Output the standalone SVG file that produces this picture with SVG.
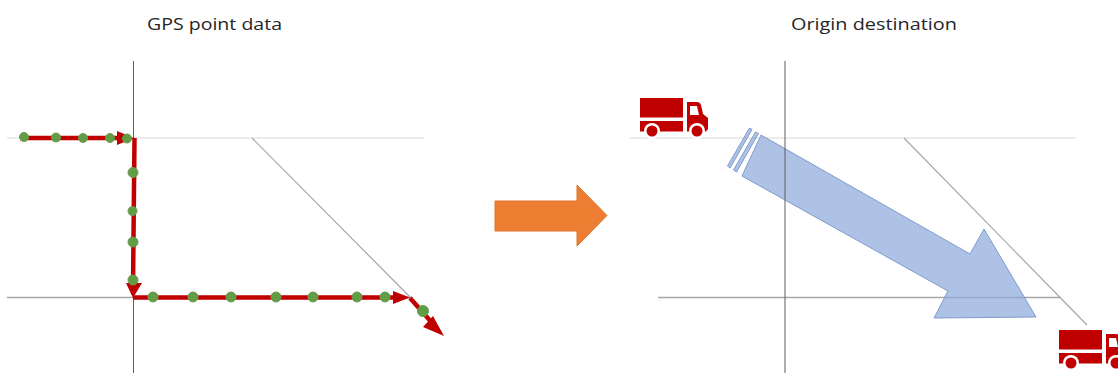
<svg xmlns="http://www.w3.org/2000/svg" width="1118" height="373" viewBox="0 0 1118 373">
<style>
.t{font-family:"Open Sans","Liberation Sans",sans-serif;font-size:16.5px;fill:#262626}
.ax{stroke:#5f5f5f;stroke-width:1;fill:none}
.lt{stroke:#d9d9d9;stroke-width:1;fill:none}
.gr{stroke:#a6a6a6;stroke-width:1.3;fill:none}
.dg{stroke:#a6a6a6;stroke-width:1.2;fill:none}
.rd{stroke:#c00000;stroke-width:4.5;fill:none}
.hd{fill:#c00000}
.pt{fill:#5f9e45;stroke:#6f9a50;stroke-width:1}
.bl{fill:#8faadc;fill-opacity:.72;stroke:#7f9bcb;stroke-width:1}
.tk{fill:#c00000}
.wr{fill:#fff}
</style>
<defs>
<g id="truck">
<rect class="tk" x="640" y="98" width="43" height="19.500"/>
<rect class="tk" x="640" y="121" width="43" height="10.500"/>
<path class="tk" d="M687 102H697Q700 102 701 105L703 114L708 118V129L706 131.500H687Z"/>
<path class="wr" d="M690 106H697L699 115H690Z"/>
<circle class="wr" cx="652" cy="131" r="8"/>
<circle class="tk" cx="652" cy="131" r="5.500"/>
<circle class="wr" cx="697" cy="131" r="8"/>
<circle class="tk" cx="697" cy="131" r="5.500"/>
</g>
</defs>
<text class="t" x="147" y="30" textLength="135" lengthAdjust="spacingAndGlyphs">GPS point data</text>
<text class="t" x="791" y="30" textLength="166" lengthAdjust="spacingAndGlyphs">Origin destination</text>
<g id="connectors">
<path class="lt" d="M7 138H424"/>
<path class="gr" d="M7 297.500H412"/>
<path class="ax" d="M133.500 61V373"/>
<path class="dg" d="M252 138L410 297"/>
<path class="rd" d="M20 138H122M134.500 138L133 288M133 297.500H398M410 298L434 325"/>
<path class="hd" d="M117 131L134 138L117 145ZM126 283H142L133 298ZM393 291L410 297.500L393 304ZM433 316L444 336L423 327Z"/>
<path class="lt" d="M630 138H1076"/>
<path class="gr" d="M658 297.500H1061"/>
<path class="dg" d="M904 138L1087 325"/>
</g>
<g id="gps-points">
<circle class="pt" cx="24" cy="137" r="4.500"/>
<circle class="pt" cx="56" cy="137.500" r="4.500"/>
<circle class="pt" cx="83" cy="138" r="4.500"/>
<circle class="pt" cx="110" cy="138" r="4.500"/>
<circle class="pt" cx="127" cy="138.500" r="4.500"/>
<circle class="pt" cx="133" cy="172.500" r="5"/>
<circle class="pt" cx="132.500" cy="211" r="4.500"/>
<circle class="pt" cx="133" cy="242" r="5"/>
<circle class="pt" cx="133" cy="280" r="5"/>
<circle class="pt" cx="153" cy="297" r="5"/>
<circle class="pt" cx="193" cy="297" r="5"/>
<circle class="pt" cx="231" cy="297" r="5"/>
<circle class="pt" cx="276" cy="297" r="5"/>
<circle class="pt" cx="313" cy="297" r="5"/>
<circle class="pt" cx="357" cy="297" r="5"/>
<circle class="pt" cx="385" cy="297" r="5"/>
<circle class="pt" cx="423" cy="311" r="5.500"/>
</g>
<g id="transform-arrow">
<path d="M495 201H577V185L607 215.500L577 246V231H495Z" fill="#ed7d31" stroke="#d9782f" stroke-width="1"/>
</g>
<g id="od-arrow">
<path class="bl" d="M761 135L970 254L984 229L1036 317L934 318L948 291L742 176Z"/>
<path class="bl" d="M755.500 132L758.500 133.500L736.500 172L733.500 170Z"/>
<path class="bl" d="M749.500 128L752 129.500L730 168L727.500 166Z"/>
</g>
<path class="ax" d="M785 61V373"/>
<g id="origin-truck"><use href="#truck"/></g>
<g id="destination-truck"><use href="#truck" x="419" y="232"/></g>
</svg>
